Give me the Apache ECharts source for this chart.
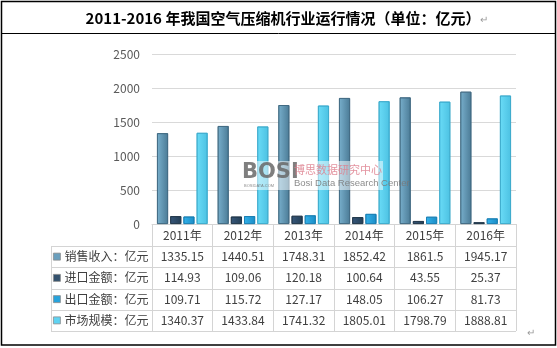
<!DOCTYPE html>
<html>
<head>
<meta charset="utf-8">
<script src="https://cdn.jsdelivr.net/npm/echarts@6/dist/echarts.min.js"></script>
<style>
  html, body { margin: 0; padding: 0; background: #fff; }
  #chart { width: 557px; height: 348px; }
</style>
</head>
<body>
<div id="chart"></div>
<script>
// Chart data: air compressor industry, 2011-2016 (unit: 100 million yuan)
const years = ['2011年', '2012年', '2013年', '2014年', '2015年', '2016年'];
const seriesNames = ['销售收入：亿元', '进口金额：亿元', '出口金额：亿元', '市场规模：亿元'];
const salesRevenue = [1335.15, 1440.51, 1748.31, 1852.42, 1861.5, 1945.17];
const importValue = [114.93, 109.06, 120.18, 100.64, 43.55, 25.37];
const exportValue = [109.71, 115.72, 127.17, 148.05, 106.27, 81.73];
const marketSize = [1340.37, 1433.84, 1741.32, 1805.01, 1798.79, 1888.81];
const titleText = '2011-2016 年我国空气压缩机行业运行情况（单位：亿元）';

const seriesValues = [salesRevenue, importValue, exportValue, marketSize];
const FONT = '"Noto Sans CJK SC", "Noto Sans", sans-serif';
const GRID_LINE = '#d9d9d9';
const TABLE_LINE = '#d4d4d4';
const TEXT = '#404040';

function hGrad(left, right) {
  return new echarts.graphic.LinearGradient(0, 0, 1, 0, [
    { offset: 0, color: left },
    { offset: 1, color: right }
  ]);
}
const barStyles = [
  { color: hGrad('#78afcc', '#4b7b96'), borderColor: '#3e6780' },
  { color: hGrad('#36577a', '#253f56'), borderColor: '#1f3548' },
  { color: hGrad('#34b2ea', '#1a8cc6'), borderColor: '#177eb3' },
  { color: hGrad('#6adcf7', '#4cc1e2'), borderColor: '#3aa9cc' }
];
const legendColors = ['#6a9fbd', '#33516d', '#27a3dc', '#5fd3f2'];

const chart = echarts.init(document.getElementById('chart'), null, { renderer: 'canvas' });

const GRID = { left: 152, right: 41, top: 54, bottom: 124 };
const HEADER_H = 22;
const ROW_H = 21.25;

chart.setOption({
  animation: false,
  textStyle: { fontFamily: FONT },
  grid: GRID,
  legend: {
    orient: 'vertical',
    left: 53,
    top: 224 + HEADER_H,
    itemGap: 0,
    itemWidth: 7,
    itemHeight: 7,
    itemStyle: { borderWidth: 0.8, borderColor: '#8c8c8c' },
    textStyle: { fontSize: 12, color: TEXT, fontFamily: FONT, lineHeight: ROW_H, padding: [0, 0, 0, -1] },
    padding: 0,
    data: seriesNames.map((n, i) => ({ name: n, icon: 'rect', itemStyle: { color: legendColors[i] } }))
  },
  xAxis: {
    type: 'category',
    data: years,
    boundaryGap: true,
    axisLine: { lineStyle: { color: TABLE_LINE } },
    axisTick: { show: true, length: HEADER_H + ROW_H * 4, lineStyle: { color: TABLE_LINE } },
    axisLabel: { color: TEXT, fontSize: 12, margin: 5, fontFamily: FONT }
  },
  yAxis: {
    type: 'value',
    min: 0,
    max: 2500,
    interval: 500,
    axisLine: { show: false },
    axisTick: { show: false },
    axisLabel: { color: '#595959', fontSize: 12, margin: 12, fontFamily: FONT, formatter: (v) => String(v) },
    splitLine: { lineStyle: { color: GRID_LINE } }
  },
  series: seriesNames.map((name, i) => ({
    name: name,
    type: 'bar',
    data: seriesValues[i],
    barWidth: 11,
    barGap: '20%',
    itemStyle: Object.assign({ borderWidth: 0.8 }, barStyles[i])
  }))
});

// Frame, title, data table and watermark
function buildGraphics() {
  const els = [];
  const axisY = chart.convertToPixel({ yAxisIndex: 0 }, 0);
  const colX = years.map((y, i) => chart.convertToPixel({ xAxisIndex: 0 }, i));
  const tableLeft = 51;
  const tableRight = 557 - GRID.right;

  // outer frame and title row
  els.push({ type: 'rect', shape: { x: 1.5, y: 1.5, width: 554, height: 343.5 },
    style: { fill: 'none', stroke: '#000', lineWidth: 1.5 }, silent: true });
  els.push({ type: 'line', shape: { x1: 1.5, y1: 33.5, x2: 555.5, y2: 33.5 },
    style: { stroke: '#000', lineWidth: 1 }, silent: true });
  els.push({ type: 'text', x: 283, y: 18,
    style: { text: titleText, font: 'bold 15px ' + FONT, fill: '#000', align: 'center', verticalAlign: 'middle' } });
  els.push({ type: 'text', x: 480, y: 19,
    style: { text: '↵', font: '10px ' + FONT, fill: '#9a9a9a', align: 'left', verticalAlign: 'middle' } });
  els.push({ type: 'text', x: 527, y: 332,
    style: { text: '↵', font: '10px ' + FONT, fill: '#9a9a9a', align: 'left', verticalAlign: 'middle' } });

  // table grid lines
  const rowTop = axisY + HEADER_H;
  for (let r = 0; r <= seriesNames.length; r++) {
    const y = Math.round(rowTop + r * ROW_H) + 0.5;
    els.push({ type: 'line', shape: { x1: tableLeft, y1: y, x2: tableRight, y2: y },
      style: { stroke: TABLE_LINE, lineWidth: 1 }, silent: true });
  }
  els.push({ type: 'line', shape: { x1: tableLeft + 0.5, y1: rowTop, x2: tableLeft + 0.5, y2: rowTop + ROW_H * 4 },
    style: { stroke: TABLE_LINE, lineWidth: 1 }, silent: true });

  // table values
  seriesValues.forEach((vals, r) => {
    const cy = rowTop + (r + 0.5) * ROW_H;
    vals.forEach((v, c) => {
      els.push({ type: 'text', x: colX[c], y: cy,
        style: { text: String(v), font: '12px ' + FONT, fill: TEXT, align: 'center', verticalAlign: 'middle' } });
    });
  });

  // watermark, on its own layer above the bars
  const wm = { zlevel: 1, silent: true };
  const ox = 241, oy = 161;
  els.push(Object.assign({ type: 'rect', shape: { x: ox, y: oy, width: 142, height: 29 }, style: { fill: 'rgba(255,255,255,0.5)' } }, wm));
  els.push(Object.assign({ type: 'text', x: ox + 1, y: oy + 12, style: { text: 'BOSI', font: 'bold 21px "DejaVu Sans", sans-serif', fill: 'rgba(105,105,105,0.85)', verticalAlign: 'middle' } }, wm));
  els.push(Object.assign({ type: 'text', x: ox + 3, y: oy + 25, style: { text: 'BOSIDATA.COM', font: '4px sans-serif', fill: 'rgba(110,110,110,0.8)', verticalAlign: 'middle' } }, wm));
  els.push(Object.assign({ type: 'text', x: ox + 53, y: oy + 9, style: { text: '博思数据研究中心', font: '11px ' + FONT, fill: 'rgba(222,128,142,0.85)', verticalAlign: 'middle' } }, wm));
  els.push(Object.assign({ type: 'text', x: ox + 53, y: oy + 22, style: { text: 'Bosi Data Research Center', font: '9.5px "Liberation Sans", sans-serif', fill: 'rgba(120,120,120,0.85)', verticalAlign: 'middle' } }, wm));
  return els;
}

chart.setOption({ graphic: buildGraphics() });
</script>
</body>
</html>
